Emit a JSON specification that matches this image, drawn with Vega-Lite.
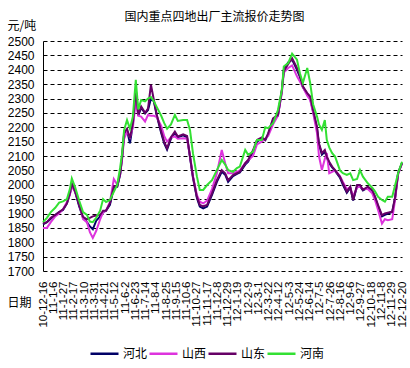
{
 "$schema": "https://vega.github.io/schema/vega-lite/v6.json",
 "width": 359, "height": 230,
 "autosize": {"type": "none"},
 "padding": {"left": 43, "top": 41, "right": 8, "bottom": 97},
 "background": "white",
 "title": {"text": "国内重点四地出厂主流报价走势图", "frame": "group", "anchor": "middle", "dx": -8, "dy": 5, "offset": 0, "fontSize": 12, "fontWeight": "normal", "font": "Noto Sans CJK SC", "color": "black"},
 "config": {"view": {"stroke": null}},
 "data": {"values": [
  {"d":"2010/12/16","河北":1862,"山西":1850,"山东":1865,"河南":1870},
  {"d":"2010/12/24","河北":1870,"山西":1850,"山东":1870,"河南":1885},
  {"d":"2011/01/01","河北":1882,"山西":1870,"山东":1885,"河南":1905},
  {"d":"2011/01/10","河北":1895,"山西":1890,"山东":1895,"河南":1920},
  {"d":"2011/01/18","河北":1905,"山西":1900,"山东":1905,"河南":1938},
  {"d":"2011/01/26","河北":1912,"山西":1915,"山东":1915,"河南":1942},
  {"d":"2011/02/03","河北":1935,"山西":1940,"山东":1935,"河南":1950},
  {"d":"2011/02/09","河北":1968,"山西":1965,"山东":1970,"河南":1985},
  {"d":"2011/02/13","河北":2000,"山西":1995,"山东":2005,"河南":2022},
  {"d":"2011/02/20","河北":1975,"山西":1975,"山东":1975,"河南":1990},
  {"d":"2011/02/28","河北":1925,"山西":1935,"山东":1930,"河南":1945},
  {"d":"2011/03/08","河北":1885,"山西":1880,"山东":1888,"河南":1905},
  {"d":"2011/03/16","河北":1870,"山西":1870,"山东":1880,"河南":1895},
  {"d":"2011/03/22","河北":1855,"山西":1835,"山东":1885,"河南":1872},
  {"d":"2011/03/28","河北":1845,"山西":1815,"山东":1890,"河南":1870},
  {"d":"2011/04/04","河北":1875,"山西":1840,"山东":1893,"河南":1885},
  {"d":"2011/04/12","河北":1890,"山西":1880,"山东":1895,"河南":1910},
  {"d":"2011/04/18","河北":1905,"山西":1905,"山东":1910,"河南":1950},
  {"d":"2011/04/24","河北":1910,"山西":1910,"山东":1910,"河南":1940},
  {"d":"2011/05/02","河北":1930,"山西":1940,"山东":1935,"河南":1947},
  {"d":"2011/05/10","河北":1990,"山西":2020,"山东":1995,"河南":1975},
  {"d":"2011/05/17","河北":1993,"山西":2000,"山东":1995,"河南":2000},
  {"d":"2011/05/23","河北":2035,"山西":2040,"山东":2040,"河南":2060},
  {"d":"2011/05/27","河北":2095,"山西":2090,"山东":2098,"河南":2110},
  {"d":"2011/05/31","河北":2175,"山西":2160,"山东":2180,"河南":2190},
  {"d":"2011/06/06","河北":2190,"山西":2185,"山东":2195,"河南":2225},
  {"d":"2011/06/12","河北":2144,"山西":2165,"山东":2162,"河南":2195},
  {"d":"2011/06/18","河北":2210,"山西":2200,"山东":2214,"河南":2237},
  {"d":"2011/06/24","河北":2330,"山西":2290,"山东":2330,"河南":2365},
  {"d":"2011/06/29","河北":2240,"山西":2240,"山东":2245,"河南":2262},
  {"d":"2011/07/05","河北":2268,"山西":2237,"山东":2272,"河南":2295},
  {"d":"2011/07/13","河北":2248,"山西":2220,"山东":2250,"河南":2290},
  {"d":"2011/07/19","河北":2260,"山西":2243,"山东":2265,"河南":2300},
  {"d":"2011/07/25","河北":2300,"山西":2240,"山东":2348,"河南":2305},
  {"d":"2011/07/31","河北":2290,"山西":2240,"山东":2295,"河南":2290},
  {"d":"2011/08/06","河北":2240,"山西":2235,"山东":2243,"河南":2270},
  {"d":"2011/08/15","河北":2180,"山西":2205,"山东":2185,"河南":2240},
  {"d":"2011/08/21","河北":2145,"山西":2170,"山东":2150,"河南":2215},
  {"d":"2011/08/27","河北":2122,"山西":2150,"山东":2127,"河南":2195},
  {"d":"2011/09/04","河北":2160,"山西":2165,"山东":2165,"河南":2210},
  {"d":"2011/09/12","河北":2180,"山西":2168,"山东":2185,"河南":2243},
  {"d":"2011/09/18","河北":2165,"山西":2160,"山东":2168,"河南":2222},
  {"d":"2011/09/29","河北":2172,"山西":2162,"山东":2175,"河南":2225},
  {"d":"2011/10/07","河北":2165,"山西":2160,"山东":2170,"河南":2225},
  {"d":"2011/10/13","河北":2095,"山西":2100,"山东":2098,"河南":2190},
  {"d":"2011/10/19","河北":2025,"山西":2030,"山东":2028,"河南":2110},
  {"d":"2011/10/27","河北":1955,"山西":1965,"山东":1958,"河南":2030},
  {"d":"2011/11/02","河北":1924,"山西":1941,"山东":1930,"河南":1982},
  {"d":"2011/11/09","河北":1918,"山西":1935,"山东":1925,"河南":1982},
  {"d":"2011/11/17","河北":1924,"山西":1945,"山东":1930,"河南":1999},
  {"d":"2011/11/27","河北":1965,"山西":1985,"山东":1970,"河南":2016},
  {"d":"2011/12/07","河北":2010,"山西":2040,"山东":2016,"河南":2051},
  {"d":"2011/12/17","河北":2045,"山西":2121,"山东":2051,"河南":2086},
  {"d":"2011/12/24","河北":2035,"山西":2075,"山东":2040,"河南":2070},
  {"d":"2011/12/30","河北":2010,"山西":2040,"山东":2016,"河南":2051},
  {"d":"2012/01/09","河北":2030,"山西":2040,"山东":2034,"河南":2045},
  {"d":"2012/01/17","河北":2038,"山西":2045,"山东":2040,"河南":2058},
  {"d":"2012/01/23","河北":2043,"山西":2050,"山东":2045,"河南":2063},
  {"d":"2012/02/03","河北":2070,"山西":2075,"山东":2075,"河南":2121},
  {"d":"2012/02/09","河北":2080,"山西":2085,"山东":2086,"河南":2104},
  {"d":"2012/02/19","河北":2115,"山西":2100,"山东":2120,"河南":2115},
  {"d":"2012/02/27","河北":2150,"山西":2140,"山东":2156,"河南":2156},
  {"d":"2012/03/08","河北":2160,"山西":2150,"山东":2165,"河南":2156},
  {"d":"2012/03/15","河北":2155,"山西":2160,"山东":2156,"河南":2200},
  {"d":"2012/03/21","河北":2175,"山西":2170,"山东":2179,"河南":2197},
  {"d":"2012/03/31","河北":2225,"山西":2210,"山东":2231,"河南":2214},
  {"d":"2012/04/10","河北":2240,"山西":2240,"山东":2243,"河南":2260},
  {"d":"2012/04/18","河北":2325,"山西":2320,"山东":2330,"河南":2330},
  {"d":"2012/04/22","河北":2400,"山西":2390,"山东":2395,"河南":2411},
  {"d":"2012/05/01","河北":2425,"山西":2406,"山东":2420,"河南":2423},
  {"d":"2012/05/09","河北":2435,"山西":2415,"山东":2440,"河南":2456},
  {"d":"2012/05/19","河北":2400,"山西":2377,"山东":2406,"河南":2435},
  {"d":"2012/05/25","河北":2375,"山西":2359,"山东":2380,"河南":2388},
  {"d":"2012/05/31","河北":2340,"山西":2340,"山东":2342,"河南":2354},
  {"d":"2012/06/09","河北":2315,"山西":2310,"山东":2319,"河南":2406},
  {"d":"2012/06/15","河北":2300,"山西":2295,"山东":2307,"河南":2354},
  {"d":"2012/06/21","河北":2255,"山西":2250,"山东":2260,"河南":2280},
  {"d":"2012/06/29","河北":2195,"山西":2180,"山东":2202,"河南":2237},
  {"d":"2012/07/03","河北":2140,"山西":2100,"山东":2144,"河南":2210},
  {"d":"2012/07/09","河北":2105,"山西":2051,"山东":2110,"河南":2191},
  {"d":"2012/07/15","河北":2115,"山西":2090,"山东":2121,"河南":2225},
  {"d":"2012/07/19","河北":2095,"山西":2110,"山东":2098,"河南":2156},
  {"d":"2012/07/24","河北":2075,"山西":2040,"山东":2080,"河南":2130},
  {"d":"2012/07/30","河北":2060,"山西":2045,"山东":2063,"河南":2110},
  {"d":"2012/08/05","河北":2048,"山西":2050,"山东":2051,"河南":2098},
  {"d":"2012/08/15","河北":2025,"山西":2030,"山东":2028,"河南":2050},
  {"d":"2012/08/21","河北":2000,"山西":2010,"山东":2005,"河南":2040},
  {"d":"2012/08/29","河北":1972,"山西":1985,"山东":1976,"河南":2034},
  {"d":"2012/09/05","河北":1990,"山西":1990,"山东":1993,"河南":2040},
  {"d":"2012/09/11","河北":1945,"山西":1960,"山东":1947,"河南":2016},
  {"d":"2012/09/19","河北":1995,"山西":1990,"山东":1999,"河南":2020},
  {"d":"2012/09/25","河北":1995,"山西":1995,"山东":1999,"河南":2051},
  {"d":"2012/10/01","河北":1980,"山西":1985,"山东":1982,"河南":2028},
  {"d":"2012/10/11","河北":1990,"山西":1985,"山东":1993,"河南":2005},
  {"d":"2012/10/20","河北":1980,"山西":1970,"山东":1982,"河南":1990},
  {"d":"2012/10/26","河北":1955,"山西":1945,"山东":1958,"河南":1976},
  {"d":"2012/11/01","河北":1925,"山西":1912,"山东":1929,"河南":1958},
  {"d":"2012/11/09","河北":1890,"山西":1865,"山东":1894,"河南":1947},
  {"d":"2012/11/15","河北":1895,"山西":1880,"山东":1900,"河南":1941},
  {"d":"2012/11/21","河北":1900,"山西":1877,"山东":1903,"河南":1958},
  {"d":"2012/11/30","河北":1905,"山西":1880,"山东":1906,"河南":1958},
  {"d":"2012/12/06","河北":1955,"山西":1950,"山东":1958,"河南":1999},
  {"d":"2012/12/12","河北":2040,"山西":2035,"山东":2040,"河南":2040},
  {"d":"2012/12/20","河北":2075,"山西":2075,"山东":2075,"河南":2080}
 ]},
 "transform": [{"fold": ["河北", "山西", "山东", "河南"], "as": ["s", "v"]}],
 "mark": {"type": "line", "strokeWidth": 2},
 "encoding": {
  "x": {"field": "d", "type": "temporal",
   "scale": {"domain": [{"year": 2010, "month": 12, "date": 16}, {"year": 2012, "month": 12, "date": 20}]},
   "axis": {
    "values": [
     {"year":2010,"month":12,"date":16},{"year":2011,"month":1,"date":6},{"year":2011,"month":1,"date":27},{"year":2011,"month":2,"date":17},
     {"year":2011,"month":3,"date":10},{"year":2011,"month":3,"date":31},{"year":2011,"month":4,"date":21},{"year":2011,"month":5,"date":12},
     {"year":2011,"month":6,"date":2},{"year":2011,"month":6,"date":23},{"year":2011,"month":7,"date":14},{"year":2011,"month":8,"date":4},
     {"year":2011,"month":8,"date":25},{"year":2011,"month":9,"date":15},{"year":2011,"month":10,"date":6},{"year":2011,"month":10,"date":27},
     {"year":2011,"month":11,"date":17},{"year":2011,"month":12,"date":8},{"year":2011,"month":12,"date":29},{"year":2012,"month":1,"date":19},
     {"year":2012,"month":2,"date":9},{"year":2012,"month":3,"date":1},{"year":2012,"month":3,"date":22},{"year":2012,"month":4,"date":12},
     {"year":2012,"month":5,"date":3},{"year":2012,"month":5,"date":24},{"year":2012,"month":6,"date":14},{"year":2012,"month":7,"date":5},
     {"year":2012,"month":7,"date":26},{"year":2012,"month":8,"date":16},{"year":2012,"month":9,"date":6},{"year":2012,"month":9,"date":27},
     {"year":2012,"month":10,"date":18},{"year":2012,"month":11,"date":8},{"year":2012,"month":11,"date":29},{"year":2012,"month":12,"date":20}
    ],
    "format": "%y-%-m-%-d", "labelAngle": -90, "labelPadding": 10, "labelOverlap": false, "labelBound": false, "labelFlush": false,
    "labelFontSize": 11.5, "labelFont": "Liberation Sans", "labelColor": "black",
    "ticks": false, "domain": false, "grid": false,
    "title": "日期", "titleX": -36, "titleY": 31, "titleAlign": "left", "titleBaseline": "middle", "titleAngle": 0,
    "titleFontSize": 12, "titleFontWeight": "normal", "titleFont": "Noto Sans CJK SC", "titleColor": "black"
   }
  },
  "y": {"field": "v", "type": "quantitative",
   "scale": {"domain": [1700, 2500], "nice": false, "zero": false},
   "axis": {
    "values": [1700,1750,1800,1850,1900,1950,2000,2050,2100,2150,2200,2250,2300,2350,2400,2450,2500],
    "format": "d",
    "title": "元/吨", "titleAngle": 0, "titleAlign": "left", "titleBaseline": "middle", "titleX": -36, "titleY": -16,
    "titleFontSize": 12, "titleFontWeight": "normal", "titleFont": "Noto Sans CJK SC", "titleColor": "black",
    "grid": true, "gridColor": "black", "gridDash": [4, 3], "gridWidth": 1, "gridOpacity": 1,
    "domain": true, "domainColor": "black", "domainWidth": 1, "ticks": false,
    "labelPadding": 9, "labelFontSize": 12, "labelFont": "Liberation Sans", "labelColor": "black"
   }
  },
  "color": {"field": "s", "type": "nominal",
   "scale": {"domain": ["河北", "山西", "山东", "河南"], "range": ["#000066", "#DD33DD", "#660066", "#33E033"]},
   "legend": {"orient": "none", "legendX": 46, "legendY": 297, "direction": "horizontal", "title": null,
    "symbolType": "stroke", "symbolSize": 784, "symbolStrokeWidth": 2.5, "labelFontSize": 12, "labelFont": "Noto Sans CJK SC",
    "labelColor": "black", "labelOffset": 3, "columnPadding": -28, "padding": 0}
  }
 }
}
